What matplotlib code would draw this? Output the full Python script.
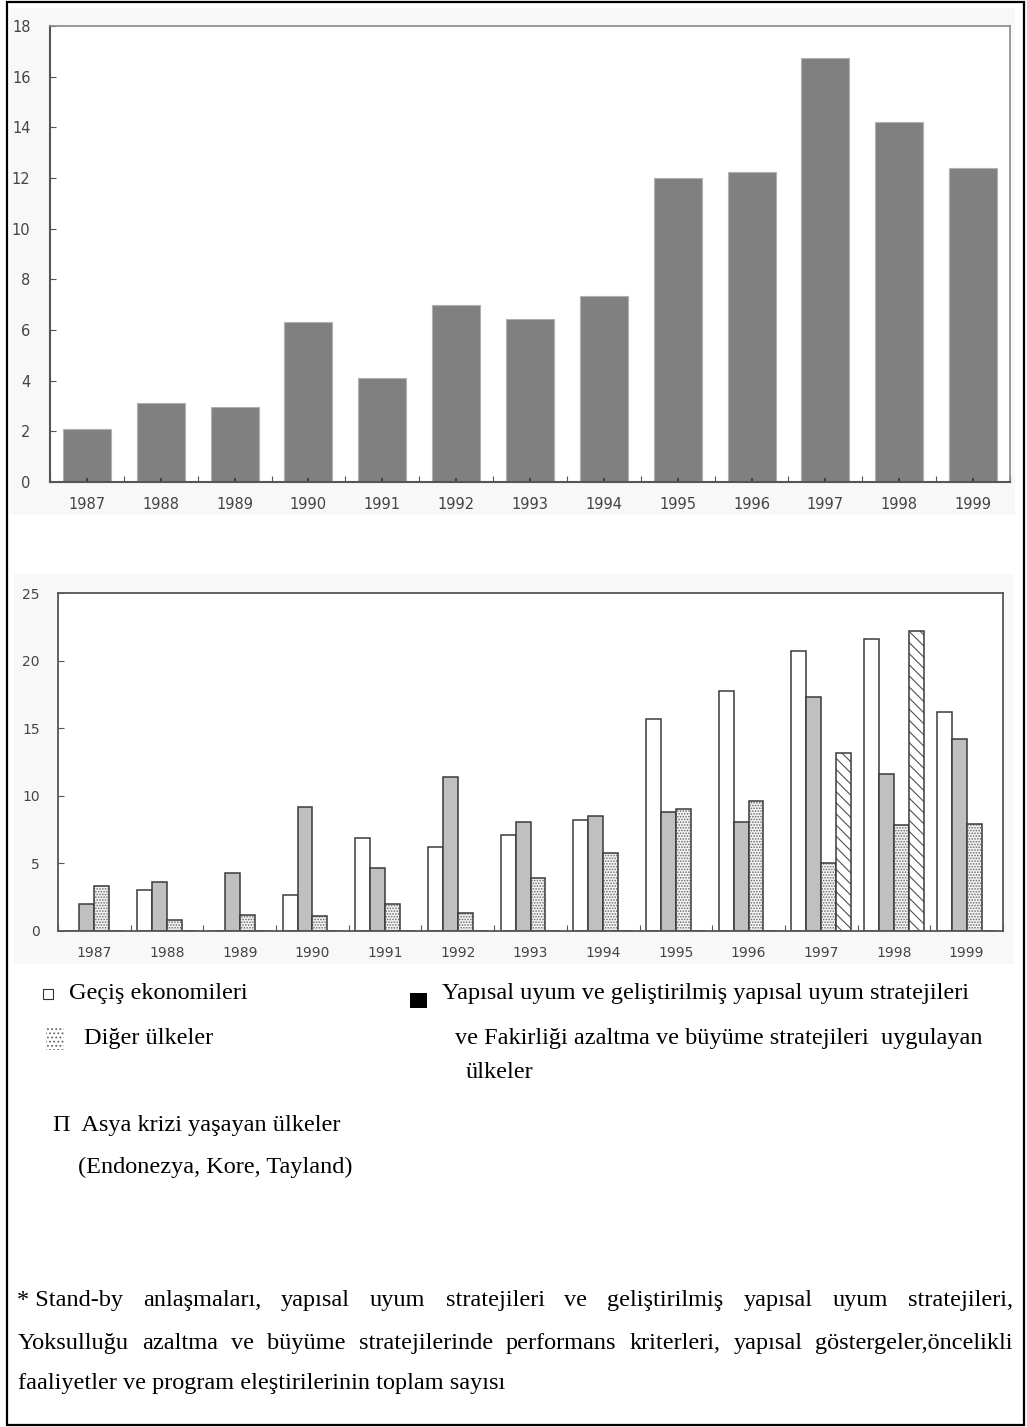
import matplotlib
matplotlib.use("Agg")
import matplotlib.pyplot as plt
import numpy as np
from matplotlib.patches import Rectangle

W, H = 1027, 1427

years = ["1987", "1988", "1989", "1990", "1991", "1992", "1993",
         "1994", "1995", "1996", "1997", "1998", "1999"]

# upper panel: total per year
totals = [2.1, 3.1, 2.95, 6.3, 4.1, 7.0, 6.45, 7.35, 12.0, 12.25, 16.75, 14.2, 12.4]

# lower panel: four country groups
transition = [0.0, 3.0, 0.0, 2.7, 6.9, 6.2, 7.1, 8.2, 15.7, 17.8, 20.7, 21.6, 16.2]
adjustment = [2.0, 3.6, 4.3, 9.2, 4.7, 11.4, 8.1, 8.5, 8.8, 8.1, 17.3, 11.6, 14.2]
others     = [3.3, 0.8, 1.2, 1.1, 2.0, 1.3, 3.9, 5.75, 9.05, 9.6, 5.0, 7.85, 7.9]
asia       = [0.0, 0.0, 0.0, 0.0, 0.0, 0.0, 0.0, 0.0, 0.0, 0.0, 13.2, 22.2, 0.0]

legend_left = ["Geçiş ekonomileri", "Diğer ülkeler"]
legend_right = ["Yapısal uyum ve geliştirilmiş yapısal uyum stratejileri",
                "ve Fakirliği azaltma ve büyüme stratejileri  uygulayan",
                "ülkeler"]
legend_asia = ["Π  Asya krizi yaşayan ülkeler", "(Endonezya, Kore, Tayland)"]

# words of the justified lines; "* Stand-by" stays together
note_line1 = ["* Stand-by", "anlaşmaları,", "yapısal", "uyum", "stratejileri", "ve",
              "geliştirilmiş", "yapısal", "uyum", "stratejileri,"]
note_line2 = ["Yoksulluğu", "azaltma", "ve", "büyüme", "stratejilerinde", "performans",
              "kriterleri,", "yapısal", "göstergeler,öncelikli"]
note_line3 = "faaliyetler ve program eleştirilerinin toplam sayısı"

SERIF = "Liberation Serif"
TICK_FONT = "DejaVu Sans"
TXT = 17.5
plt.rcParams["hatch.linewidth"] = 0.8


def fx(x):
    return x / W


def fy(y):
    return 1 - y / H


def label(x, y, s):
    # y is the visual middle of the line; put the baseline a bit below it
    return fig.text(fx(x), fy(y + 6), s, family=SERIF, fontsize=TXT, va="baseline")


def style_ticks(ax, ymax, ystep, pad, size):
    ax.set_xlim(-0.5, len(years) - 0.5)
    ax.set_ylim(0, ymax)
    ax.set_yticks(np.arange(0, ymax + 0.1, ystep))
    ax.set_xticks(np.arange(len(years)))
    ax.set_xticklabels(years)
    ax.set_xticks(np.arange(-0.5, len(years)), minor=True)
    ax.tick_params(axis="y", direction="in", length=4, width=0.8, color="#555555",
                   labelsize=size, labelcolor="#444444", pad=pad)
    ax.tick_params(axis="x", which="major", direction="in", length=0,
                   labelsize=size, labelcolor="#444444", pad=11)
    ax.tick_params(axis="x", which="minor", direction="in", length=4, width=0.8,
                   color="#555555")
    for lab in ax.get_xticklabels() + ax.get_yticklabels():
        lab.set_fontfamily(TICK_FONT)


fig = plt.figure(figsize=(W / 100, H / 100), dpi=100)
fig.patch.set_facecolor("white")

# faint backdrop behind each chart
for (l, t, r, b) in [(10, 8, 1015, 515), (14, 574, 1014, 964)]:
    fig.patches.append(Rectangle((fx(l), fy(b)), (r - l) / W, (b - t) / H,
                                 transform=fig.transFigure, facecolor="#f8f8f8",
                                 edgecolor="none", zorder=-5))

# ── upper chart ──────────────────────────────────────────────
ax1 = fig.add_axes([fx(50), fy(482), 960 / W, 456 / H])
x = np.arange(len(years))
ax1.bar(x, totals, width=0.65, color="#808080", edgecolor="#b0b0b0", linewidth=0.8)
style_ticks(ax1, 18, 2, 14, 10.5)
ax1.tick_params(axis="x", which="major", length=3, width=1.2, color="#333333")
for side in ["left", "bottom"]:
    ax1.spines[side].set_color("#555555")
    ax1.spines[side].set_linewidth(1.5)
for side in ["top", "right"]:
    ax1.spines[side].set_color("#8a8a8a")
    ax1.spines[side].set_linewidth(1.2)

# ── lower chart ──────────────────────────────────────────────
ax2 = fig.add_axes([fx(58), fy(931), 945 / W, 337.7 / H])
bw = 0.205
offs = np.array([-1.5, -0.5, 0.5, 1.5]) * bw
edge = "#3a3a3a"
ax2.bar(x + offs[0], transition, width=bw, color="white", edgecolor=edge, linewidth=1.1)
ax2.bar(x + offs[1], adjustment, width=bw, color="#c0c0c0", edgecolor=edge, linewidth=1.1)
ax2.bar(x + offs[2], others, width=bw, color="#f4f4f4", edgecolor="#6a6a6a",
        linewidth=0, hatch="......")
ax2.bar(x + offs[2], others, width=bw, fill=False, edgecolor=edge, linewidth=1.1)
ax2.bar(x + offs[3], asia, width=bw, color="white", edgecolor="#505050",
        linewidth=0, hatch="\\" * 3)
ax2.bar(x + offs[3], asia, width=bw, fill=False, edgecolor=edge, linewidth=1.1)
style_ticks(ax2, 25, 5, 13, 10)
for side in ax2.spines:
    ax2.spines[side].set_color("#555555")
    ax2.spines[side].set_linewidth(1.3)

# ── legend ───────────────────────────────────────────────────
fig.patches.append(Rectangle((fx(43), fy(999)), 10 / W, 10 / H, transform=fig.transFigure,
                             facecolor="white", edgecolor="#333333", linewidth=0.8))
label(69, 993, legend_left[0])
fig.patches.append(Rectangle((fx(46), fy(1050)), 18 / W, 24 / H, transform=fig.transFigure,
                             facecolor="white", edgecolor="#666666", linewidth=0,
                             hatch="...."))
label(84, 1038, legend_left[1])

fig.patches.append(Rectangle((fx(410), fy(1008)), 17 / W, 15 / H, transform=fig.transFigure,
                             facecolor="black", edgecolor="none"))
label(442, 993, legend_right[0])
label(455, 1038, legend_right[1])
label(466, 1072, legend_right[2])

label(53, 1125, legend_asia[0])
label(78, 1167, legend_asia[1])

# ── footnote, first two lines justified ─────────────────────
renderer = fig.canvas.get_renderer()


def justified(words, y, x0, x1):
    texts = [label(0, y, w) for w in words]
    widths = [t.get_window_extent(renderer).width for t in texts]
    gap = (x1 - x0 - sum(widths)) / (len(words) - 1)
    pos = x0
    for t, w in zip(texts, widths):
        t.set_x(fx(pos))
        pos += w + gap


justified(note_line1, 1300, 17, 1013)
justified(note_line2, 1343, 18, 1013)
label(18, 1383, note_line3)

# page frame
fig.patches.append(Rectangle((fx(7), fy(1425)), 1017 / W, 1423 / H, transform=fig.transFigure,
                             facecolor="none", edgecolor="black", linewidth=1.6))

fig.savefig("out.png", dpi=100)
